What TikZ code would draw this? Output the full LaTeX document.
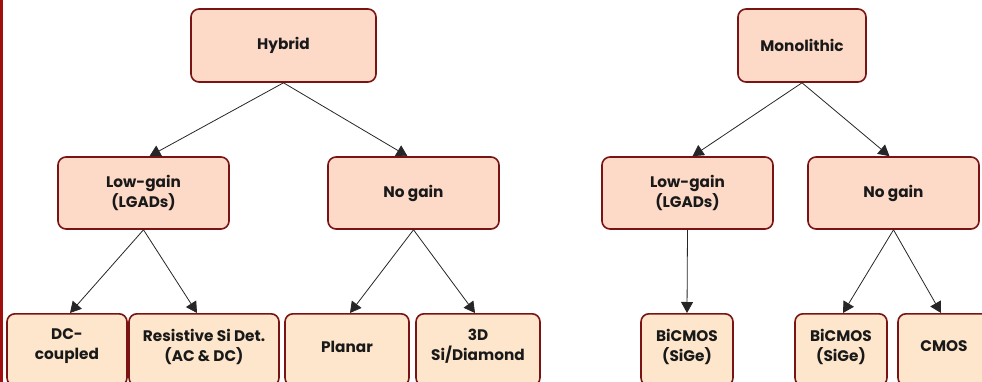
\documentclass[tikz,border=0pt]{standalone}
\usepackage{fontspec}
\setmainfont{Poppins}[UprightFont=* SemiBold,BoldFont=* Bold]
\usetikzlibrary{arrows.meta}
\definecolor{bordred}{HTML}{7A1414}
\definecolor{fillA}{HTML}{FDD9C7}
\definecolor{fillB}{HTML}{FDE6CB}
\definecolor{barred}{HTML}{A00E0E}
\tikzset{
  lbl/.style={font=\bfseries\fontsize{15.3}{20}\selectfont, align=center, text=black!90},
  box/.style={draw=bordred, line width=1.6pt, rounded corners=8pt, fill=fillA,
    inner sep=0pt, lbl},
  leaf/.style={box, fill=fillB},
  conn/.style={draw=black!85, line width=0.8pt, -{Triangle[length=11pt,width=12pt]}},
}
\begin{document}
\begin{tikzpicture}[x=1pt,y=-1pt]
\useasboundingbox (0,0) rectangle (982,382);
\fill[barred] (0,0) rectangle (3,382);
% top row
\node[box, minimum width=185pt, minimum height=73pt] (hyb) at (283.5,45.5) {Hybrid};
\node[box, minimum width=128pt, minimum height=73pt] (mono) at (802,45.5) {Monolithic};
% middle row
\node[box, minimum width=171pt, minimum height=72pt] (lgl) at (143.5,193) {Low-gain\\(LGADs)};
\node[box, minimum width=171pt, minimum height=72pt] (ngl) at (413.5,193) {No gain};
\node[box, minimum width=171pt, minimum height=72pt] (lgr) at (687.5,193) {Low-gain\\(LGADs)};
\node[box, minimum width=171pt, minimum height=72pt] (ngr) at (893.5,193) {No gain};
% bottom row
\node[leaf, minimum width=120pt, minimum height=72pt, anchor=north] (dc) at (67,313) {};
\node[lbl] (dct) at (67,346.5) {DC-\\coupled};
\node[leaf, minimum width=150pt, minimum height=72pt, anchor=north] (res) at (204,313) {};
\node[lbl] (rest) at (204,346.5) {Resistive Si Det.\\(AC \& DC)};
\node[leaf, minimum width=124pt, minimum height=72pt, anchor=north] (pla) at (347,313) {};
\node[lbl] (plat) at (347,346.5) {Planar};
\node[leaf, minimum width=124pt, minimum height=72pt, anchor=north] (td) at (478,313) {};
\node[lbl] (tdt) at (478,346.5) {3D\\Si/Diamond};
\node[leaf, minimum width=92pt, minimum height=72pt, anchor=north] (bi1) at (687,313) {};
\node[lbl] (bi1t) at (687,346.5) {BiCMOS\\(SiGe)};
\node[leaf, minimum width=92pt, minimum height=72pt, anchor=north] (bi2) at (841,313) {};
\node[lbl] (bi2t) at (841,346.5) {BiCMOS\\(SiGe)};
\node[leaf, minimum width=92pt, minimum height=72pt, anchor=north] (cm) at (944,313) {};
\node[lbl] (cmt) at (944,346.5) {CMOS};
% connectors
\draw[conn] (hyb.south) -- ([xshift=6pt]lgl.north);
\draw[conn] (hyb.south) -- ([xshift=-6pt]ngl.north);
\draw[conn] (mono.south) -- ([xshift=5pt]lgr.north);
\draw[conn] (mono.south) -- ([xshift=-4pt]ngr.north);
\draw[conn] (lgl.south) -- ([xshift=3pt]dc.north);
\draw[conn] (lgl.south) -- ([xshift=-7pt]res.north);
\draw[conn] (ngl.south) -- ([xshift=3pt]pla.north);
\draw[conn] (ngl.south) -- ([xshift=-3pt]td.north);
\draw[conn] (lgr.south) -- (bi1.north);
\draw[conn] (ngr.south) -- ([xshift=2pt]bi2.north);
\draw[conn] (ngr.south) -- ([xshift=-3pt]cm.north);
\end{tikzpicture}
\end{document}
